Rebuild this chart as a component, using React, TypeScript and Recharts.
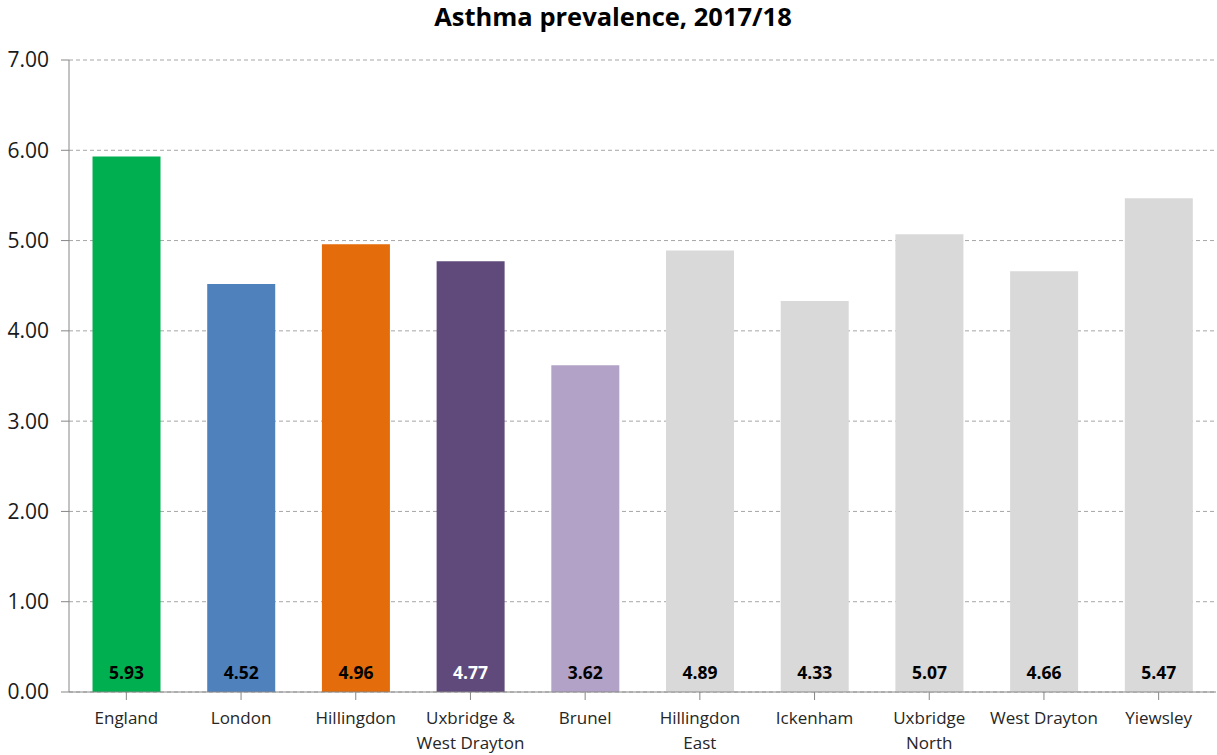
import React from 'react';
import { BarChart, Bar, XAxis, YAxis, CartesianGrid, Cell, LabelList } from 'recharts';

const categories = ['England', 'London', 'Hillingdon', 'Uxbridge & West Drayton', 'Brunel', 'Hillingdon East', 'Ickenham', 'Uxbridge North', 'West Drayton', 'Yiewsley'];
const categoryLines = [['England'], ['London'], ['Hillingdon'], ['Uxbridge &', 'West Drayton'], ['Brunel'], ['Hillingdon', 'East'], ['Ickenham'], ['Uxbridge', 'North'], ['West Drayton'], ['Yiewsley']];
const values = [5.93, 4.52, 4.96, 4.77, 3.62, 4.89, 4.33, 5.07, 4.66, 5.47];
const barColors = ['#00b050', '#4f81bd', '#e46c0a', '#604a7b', '#b2a2c7', '#d9d9d9', '#d9d9d9', '#d9d9d9', '#d9d9d9', '#d9d9d9'];
const labelColors = ['#000', '#000', '#000', '#fff', '#000', '#000', '#000', '#000', '#000', '#000'];
const yTicks = [0, 1, 2, 3, 4, 5, 6, 7];

const data = categories.map((c, i) => ({ name: c, value: values[i], idx: i }));

const FONT = '"Open Sans", sans-serif';

const XTick = (props: any) => {
  const { x, y, index } = props;
  const lines = categoryLines[index] || [props.payload.value];
  return (
    <g transform={`translate(${x},${y})`}>
      {lines.map((l: string, i: number) => (
        <text key={i} x={0} y={22 + i * 25} textAnchor="middle" fontFamily={FONT} fontSize={17} fill="#262626">{l}</text>
      ))}
    </g>
  );
};

const ValueLabel = (props: any) => {
  const { x, y, width, height, index } = props;
  return (
    <text x={x + width / 2} y={y + height - 13} textAnchor="middle" fontFamily={FONT} fontWeight="bold" fontSize={17.5} fill={labelColors[index]}>
      {values[index].toFixed(2)}
    </text>
  );
};

export default function App() {
  return (
    <div style={{ position: 'absolute', left: 0, top: 0, width: 1217, height: 755, background: '#fff' }}>
      <svg width={1217} height={40} style={{ position: 'absolute', left: 0, top: 0 }}>
        <text x={613} y={26} textAnchor="middle" fontFamily={FONT} fontWeight="bold" fontSize={25.5} fill="#000">Asthma prevalence, 2017/18</text>
      </svg>
      <BarChart width={1217} height={755} data={data} margin={{ top: 60, right: 1, bottom: 0, left: 0 }} barCategoryGap="20.5%">
        <CartesianGrid vertical={false} stroke="#a6a6a6" strokeDasharray="4 3" />
        <XAxis dataKey="name" interval={0} tick={<XTick />} tickLine={{ stroke: '#868686' }} tickSize={8} axisLine={{ stroke: '#868686' }} height={63} />
        <YAxis domain={[0, 7]} ticks={yTicks} interval={0} tickFormatter={(v: number) => v.toFixed(2)} width={69} tickSize={8} tickLine={{ stroke: '#868686' }} axisLine={{ stroke: '#868686' }} tick={{ fontFamily: FONT, fontSize: 21, fill: '#1a1a1a' }} tickMargin={12} />
        <Bar dataKey="value" isAnimationActive={false}>
          {data.map((d, i) => (
            <Cell key={i} fill={barColors[i]} />
          ))}
          <LabelList dataKey="value" content={<ValueLabel />} />
        </Bar>
      </BarChart>
    </div>
  );
}
